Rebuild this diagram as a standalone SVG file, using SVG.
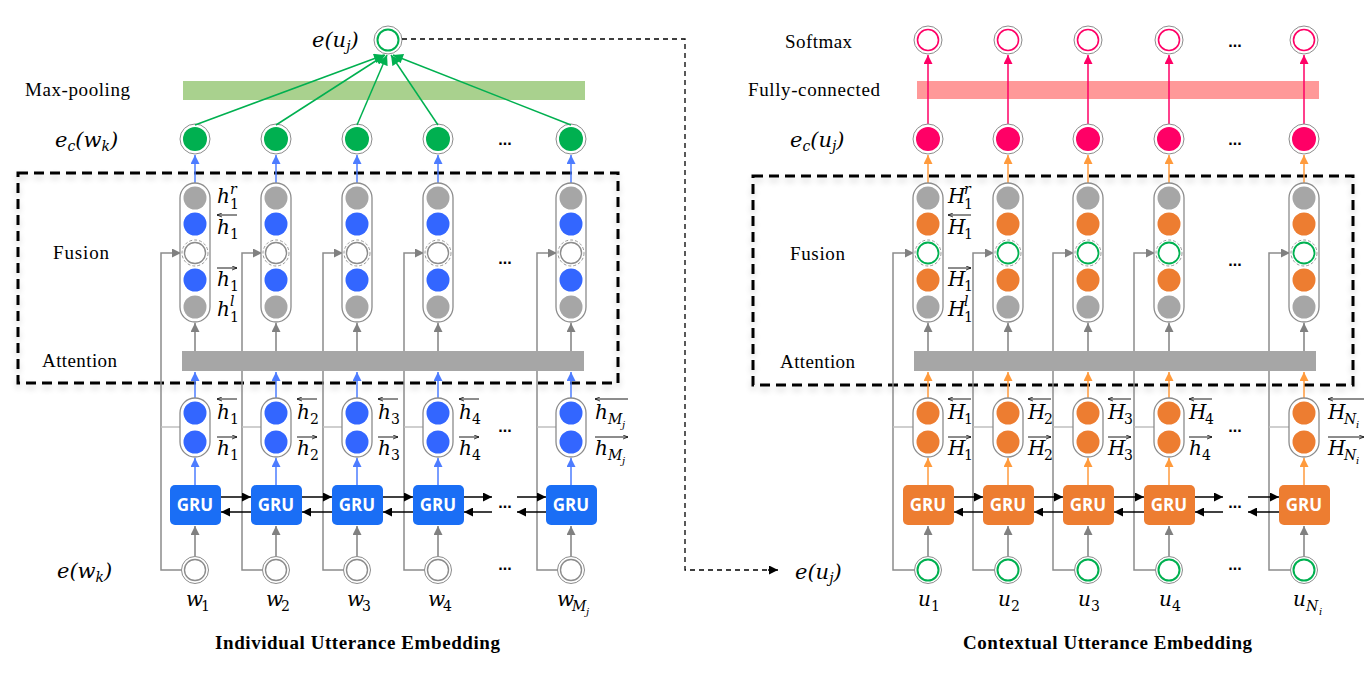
<svg xmlns="http://www.w3.org/2000/svg" xmlns:xlink="http://www.w3.org/1999/xlink" width="1372" height="684" viewBox="0 0 1372 684">
<style>
.lbl{font-family:"Liberation Serif",serif;font-size:19px;fill:#000}
.ttl{font-family:"Liberation Serif",serif;font-size:19px;font-weight:bold;fill:#000}
.m{font-family:"DejaVu Serif","Liberation Serif",serif;font-style:italic;font-size:20px;fill:#000}
.mr{font-family:"DejaVu Serif","Liberation Serif",serif;font-style:italic;font-size:21px;fill:#000}
.s{font-family:"DejaVu Serif","Liberation Serif",serif;font-size:14px;fill:#000}
.si{font-family:"DejaVu Serif","Liberation Serif",serif;font-style:italic;font-size:14px;fill:#000}
.ss{font-family:"DejaVu Serif","Liberation Serif",serif;font-style:italic;font-size:10px;fill:#000}
.gru{font-family:"Open Sans","Noto Sans",sans-serif;font-weight:bold;font-size:17px;fill:#fff;text-anchor:middle}
.dots{font-family:"Liberation Sans",sans-serif;font-weight:bold;font-size:16px;fill:#000;text-anchor:middle}
.pill{fill:#fff;stroke:#8c8c8c;stroke-width:1.3}
.ring{fill:#fff;stroke:#8c8c8c;stroke-width:1}
.gray{fill:#a6a6a6}
.blue{fill:#3366ff}
.orng{fill:#ed7d31}
.side{fill:none;stroke:#8c8c8c;stroke-width:1.5}
.sideL{fill:none;stroke:#bfbfbf;stroke-width:1.5}
.ga{stroke:#808080;stroke-width:1.5;marker-end:url(#aG)}
.ba{stroke:#4d7cff;stroke-width:1.5;marker-end:url(#aB)}
.oa{stroke:#ff9a3c;stroke-width:1.5;marker-end:url(#aO)}
.ra{stroke:#ff0066;stroke-width:1.5;marker-end:url(#aR)}
.gna{stroke:#00b050;stroke-width:1.5;marker-end:url(#aN)}
.ka{stroke:#000;stroke-width:1.5;marker-end:url(#aK)}
.ov{stroke:#000;stroke-width:0.9;marker-end:url(#aS)}
.dash{fill:none;stroke:#000;stroke-width:1.3;stroke-dasharray:5 4}
.box{fill:none;stroke:#000;stroke-width:3;stroke-dasharray:10 6}
</style>
<defs>
<marker id="aG" viewBox="0 0 10 10" refX="10" refY="5" markerWidth="10" markerHeight="9" markerUnits="userSpaceOnUse" orient="auto"><path d="M0,0 L10,5 L0,10 z" fill="#808080"/></marker>
<marker id="aB" viewBox="0 0 10 10" refX="10" refY="5" markerWidth="10" markerHeight="9" markerUnits="userSpaceOnUse" orient="auto"><path d="M0,0 L10,5 L0,10 z" fill="#4d7cff"/></marker>
<marker id="aO" viewBox="0 0 10 10" refX="10" refY="5" markerWidth="10" markerHeight="9" markerUnits="userSpaceOnUse" orient="auto"><path d="M0,0 L10,5 L0,10 z" fill="#ff9a3c"/></marker>
<marker id="aR" viewBox="0 0 10 10" refX="10" refY="5" markerWidth="10" markerHeight="9" markerUnits="userSpaceOnUse" orient="auto"><path d="M0,0 L10,5 L0,10 z" fill="#ff0066"/></marker>
<marker id="aN" viewBox="0 0 10 10" refX="10" refY="5" markerWidth="11" markerHeight="10" markerUnits="userSpaceOnUse" orient="auto"><path d="M0,0 L10,5 L0,10 z" fill="#00b050"/></marker>
<marker id="aK" viewBox="0 0 10 10" refX="10" refY="5" markerWidth="11" markerHeight="9" markerUnits="userSpaceOnUse" orient="auto"><path d="M0,0 L10,5 L0,10 z" fill="#000"/></marker>
<marker id="aS" viewBox="0 0 10 10" refX="10" refY="5" markerWidth="5" markerHeight="5" markerUnits="userSpaceOnUse" orient="auto"><path d="M0,1 L10,5 L0,9" fill="none" stroke="#000" stroke-width="1.5"/></marker>
<filter id="sh" x="-5%" y="-5%" width="110%" height="115%"><feGaussianBlur in="SourceAlpha" stdDeviation="3"/><feOffset dx="0" dy="4" result="b"/><feComponentTransfer><feFuncA type="linear" slope="0.18"/></feComponentTransfer><feMerge><feMergeNode/><feMergeNode in="SourceGraphic"/></feMerge></filter>

<g id="tplL">
  <path class="side" d="M-13,570 H-34 V253 H-14" marker-end="url(#aG)"/>
  <path class="sideL" d="M-34,427 H-15"/>
  <line class="ga" x1="0" y1="556" x2="0" y2="526"/>
  <line class="ba" x1="0" y1="485" x2="0" y2="458"/>
  <line class="ba" x1="0" y1="398" x2="0" y2="372"/>
  <line class="ga" x1="0" y1="351" x2="0" y2="323"/>
  <line class="ba" x1="0" y1="183" x2="0" y2="155"/>
  <circle class="ring" cx="0" cy="139" r="15"/><circle cx="0" cy="139" r="12" fill="#00b050"/>
  <rect class="pill" x="-15" y="183" width="30" height="139" rx="15"/>
  <circle class="gray" cx="0" cy="198" r="11.5"/>
  <circle class="blue" cx="0" cy="224" r="11.5"/>
  <circle cx="0" cy="253" r="13" fill="#fff" stroke="#8c8c8c" stroke-width="0.9" stroke-dasharray="3 2"/>
  <circle cx="0" cy="253" r="10.5" fill="#fff" stroke="#8c8c8c" stroke-width="1.4"/>
  <circle class="blue" cx="0" cy="280" r="11.5"/>
  <circle class="gray" cx="0" cy="307" r="11.5"/>
  <rect class="pill" x="-15" y="398" width="30" height="59" rx="15"/>
  <circle class="blue" cx="0" cy="413" r="11.5"/>
  <circle class="blue" cx="0" cy="442" r="11.5"/>
  <rect x="-25" y="485" width="51" height="40" rx="5" fill="#1a6ef5"/>
  <text class="gru" x="0" y="511">GRU</text>
  <circle class="ring" cx="0" cy="570" r="13.5"/><circle cx="0" cy="570" r="10.5" fill="#fff" stroke="#8c8c8c" stroke-width="1.4"/>
</g>
<g id="tplR">
  <path class="side" d="M-13,570 H-35 V253 H-14" marker-end="url(#aG)"/>
  <path class="sideL" d="M-35,427 H-15"/>
  <line class="ga" x1="0" y1="556" x2="0" y2="526"/>
  <line class="oa" x1="0" y1="485" x2="0" y2="458"/>
  <line class="oa" x1="0" y1="398" x2="0" y2="372"/>
  <line class="ga" x1="0" y1="351" x2="0" y2="323"/>
  <line class="oa" x1="0" y1="183" x2="0" y2="155"/>
  <line class="ra" x1="0" y1="124" x2="0" y2="55"/>
  <circle class="ring" cx="0" cy="139" r="15"/><circle cx="0" cy="139" r="12" fill="#ff0066"/>
  <circle class="ring" cx="0" cy="40" r="14"/><circle cx="0" cy="40" r="10.5" fill="#fff" stroke="#ff0066" stroke-width="1.6"/>
  <rect class="pill" x="-15" y="183" width="30" height="139" rx="15"/>
  <circle class="gray" cx="0" cy="198" r="11.5"/>
  <circle class="orng" cx="0" cy="224" r="11.5"/>
  <circle cx="0" cy="253" r="13" fill="#fff" stroke="#8c8c8c" stroke-width="0.9" stroke-dasharray="3 2"/>
  <circle cx="0" cy="253" r="10.5" fill="#fff" stroke="#00b050" stroke-width="1.8"/>
  <circle class="orng" cx="0" cy="280" r="11.5"/>
  <circle class="gray" cx="0" cy="307" r="11.5"/>
  <rect class="pill" x="-15" y="398" width="30" height="59" rx="15"/>
  <circle class="orng" cx="0" cy="413" r="11.5"/>
  <circle class="orng" cx="0" cy="442" r="11.5"/>
  <rect x="-25" y="485" width="51" height="40" rx="5" fill="#ed7d31"/>
  <text class="gru" x="0" y="511">GRU</text>
  <circle class="ring" cx="0" cy="570" r="13.5"/><circle cx="0" cy="570" r="10.5" fill="#fff" stroke="#00b050" stroke-width="2"/>
</g>
</defs>
<rect width="1372" height="684" fill="#fff"/>

<!-- bars -->
<g id="maxpool"><rect x="183" y="81" width="402" height="19" fill="#a9d18e"/></g>
<g id="fc"><rect x="917" y="81" width="402" height="18" fill="#ff9999"/></g>

<!-- dashed boxes -->
<g id="boxL"><rect class="box" x="18" y="173" width="600" height="210" filter="url(#sh)"/></g>
<g id="boxR"><rect class="box" x="753" y="176" width="600" height="209" filter="url(#sh)"/></g>

<!-- columns -->
<g id="colL1"><use xlink:href="#tplL" x="195"/></g>
<g id="colL2"><use xlink:href="#tplL" x="276"/></g>
<g id="colL3"><use xlink:href="#tplL" x="357"/></g>
<g id="colL4"><use xlink:href="#tplL" x="438"/></g>
<g id="colL5"><use xlink:href="#tplL" x="571"/></g>
<g id="colR1"><use xlink:href="#tplR" x="928"/></g>
<g id="colR2"><use xlink:href="#tplR" x="1008"/></g>
<g id="colR3"><use xlink:href="#tplR" x="1088"/></g>
<g id="colR4"><use xlink:href="#tplR" x="1169"/></g>
<g id="colR5"><use xlink:href="#tplR" x="1304"/></g>

<!-- attention bars -->
<g id="attL"><rect x="182" y="351" width="402" height="20" fill="#a6a6a6"/></g>
<g id="attR"><rect x="914" y="351" width="402" height="20" fill="#a6a6a6"/></g>

<!-- top node e(u_j) -->
<g id="euj"><circle class="ring" cx="388" cy="40" r="14"/><circle cx="388" cy="40" r="10.5" fill="#fff" stroke="#00b050" stroke-width="2"/></g>

<!-- connectors -->
<g id="connectors">
  <line class="gna" x1="195" y1="125" x2="384" y2="55"/>
  <line class="gna" x1="276" y1="125" x2="385" y2="55"/>
  <line class="gna" x1="357" y1="125" x2="387" y2="55"/>
  <line class="gna" x1="438" y1="125" x2="391" y2="55"/>
  <line class="gna" x1="571" y1="125" x2="393" y2="55"/>
  <path class="dash" d="M402,39 H685 V570 H768"/>
  <line class="ka" x1="768" y1="570" x2="778" y2="570"/>
  <line class="ka" x1="221" y1="497" x2="251" y2="497"/><line class="ka" x1="251" y1="512" x2="221" y2="512"/>
  <line class="ka" x1="302" y1="497" x2="332" y2="497"/><line class="ka" x1="332" y1="512" x2="302" y2="512"/>
  <line class="ka" x1="383" y1="497" x2="413" y2="497"/><line class="ka" x1="413" y1="512" x2="383" y2="512"/>
  <line class="ka" x1="464" y1="497" x2="492" y2="497"/><line class="ka" x1="492" y1="512" x2="464" y2="512"/>
  <line class="ka" x1="517" y1="497" x2="546" y2="497"/><line class="ka" x1="546" y1="512" x2="517" y2="512"/>
  <line class="ka" x1="954" y1="497" x2="983" y2="497"/><line class="ka" x1="983" y1="512" x2="954" y2="512"/>
  <line class="ka" x1="1034" y1="497" x2="1063" y2="497"/><line class="ka" x1="1063" y1="512" x2="1034" y2="512"/>
  <line class="ka" x1="1114" y1="497" x2="1144" y2="497"/><line class="ka" x1="1144" y1="512" x2="1114" y2="512"/>
  <line class="ka" x1="1195" y1="497" x2="1223" y2="497"/><line class="ka" x1="1223" y1="512" x2="1195" y2="512"/>
  <line class="ka" x1="1248" y1="497" x2="1279" y2="497"/><line class="ka" x1="1279" y1="512" x2="1248" y2="512"/>
</g>

<!-- ellipses -->
<g id="dots">
  <text class="dots" x="505" y="145">...</text>
  <text class="dots" x="505" y="264">...</text>
  <text class="dots" x="505" y="432">...</text>
  <text class="dots" x="505" y="508">...</text>
  <text class="dots" x="505" y="570">...</text>
  <text class="dots" x="1235" y="47">...</text>
  <text class="dots" x="1235" y="145">...</text>
  <text class="dots" x="1235" y="266">...</text>
  <text class="dots" x="1235" y="432">...</text>
  <text class="dots" x="1235" y="508">...</text>
  <text class="dots" x="1235" y="570">...</text>
</g>

<!-- row labels -->
<g id="labelsL">
  <text class="mr" x="312" y="47">e(u<tspan class="si" dy="4">j</tspan><tspan dy="-4">)</tspan></text>
  <text class="lbl" x="25" y="96" textLength="105">Max-pooling</text>
  <text class="mr" x="55" y="147">e<tspan class="si" dy="4">c</tspan><tspan dy="-4">(w</tspan><tspan class="si" dy="4">k</tspan><tspan dy="-4">)</tspan></text>
  <text class="lbl" x="53" y="259" textLength="56">Fusion</text>
  <text class="lbl" x="42" y="367" textLength="75">Attention</text>
  <text class="mr" x="57" y="578">e(w<tspan class="si" dy="4">k</tspan><tspan dy="-4">)</tspan></text>
  <text class="ttl" x="215" y="649" textLength="285">Individual Utterance Embedding</text>
</g>
<g id="labelsR">
  <text class="lbl" x="785" y="48" textLength="67">Softmax</text>
  <text class="lbl" x="748" y="96" textLength="132">Fully-connected</text>
  <text class="mr" x="790" y="147">e<tspan class="si" dy="4">c</tspan><tspan dy="-4">(u</tspan><tspan class="si" dy="4">j</tspan><tspan dy="-4">)</tspan></text>
  <text class="lbl" x="790" y="260" textLength="55">Fusion</text>
  <text class="lbl" x="780" y="368" textLength="75">Attention</text>
  <text class="mr" x="795" y="579">e(u<tspan class="si" dy="4">j</tspan><tspan dy="-4">)</tspan></text>
  <text class="ttl" x="963" y="649" textLength="289">Contextual Utterance Embedding</text>
</g>

<!-- fusion labels -->
<g id="fusLblL">
  <text class="m" x="217" y="203">h</text><text class="si" x="230" y="194">r</text><text class="s" x="230" y="209">1</text>
  <line class="ov" x1="237" y1="215" x2="217" y2="215"/>
  <text class="m" x="217" y="234">h</text><text class="s" x="230" y="239">1</text>
  <line class="ov" x1="217" y1="268" x2="237" y2="268"/>
  <text class="m" x="217" y="286">h</text><text class="s" x="230" y="291">1</text>
  <text class="m" x="217" y="316">h</text><text class="si" x="230" y="306">l</text><text class="s" x="230" y="322">1</text>
</g>
<g id="fusLblR">
  <text class="m" x="948" y="203">H</text><text class="si" x="964" y="194">r</text><text class="s" x="964" y="209">1</text>
  <line class="ov" x1="971" y1="215" x2="948" y2="215"/>
  <text class="m" x="948" y="234">H</text><text class="s" x="964" y="239">1</text>
  <line class="ov" x1="948" y1="268" x2="971" y2="268"/>
  <text class="m" x="948" y="286">H</text><text class="s" x="964" y="291">1</text>
  <text class="m" x="948" y="316">H</text><text class="si" x="964" y="306">l</text><text class="s" x="964" y="322">1</text>
</g>

<!-- BiGRU labels -->
<g id="biLblL">
  <line class="ov" x1="237" y1="399" x2="217" y2="399"/><text class="m" x="217" y="419">h</text><text class="s" x="230" y="424">1</text>
  <line class="ov" x1="217" y1="437" x2="237" y2="437"/><text class="m" x="217" y="455">h</text><text class="s" x="230" y="460">1</text>
  <line class="ov" x1="317" y1="399" x2="297" y2="399"/><text class="m" x="297" y="419">h</text><text class="s" x="310" y="424">2</text>
  <line class="ov" x1="297" y1="437" x2="317" y2="437"/><text class="m" x="297" y="455">h</text><text class="s" x="310" y="460">2</text>
  <line class="ov" x1="398" y1="399" x2="378" y2="399"/><text class="m" x="378" y="419">h</text><text class="s" x="391" y="424">3</text>
  <line class="ov" x1="378" y1="437" x2="398" y2="437"/><text class="m" x="378" y="455">h</text><text class="s" x="391" y="460">3</text>
  <line class="ov" x1="479" y1="399" x2="459" y2="399"/><text class="m" x="459" y="419">h</text><text class="s" x="472" y="424">4</text>
  <line class="ov" x1="459" y1="437" x2="479" y2="437"/><text class="m" x="459" y="455">h</text><text class="s" x="472" y="460">4</text>
  <line class="ov" x1="628" y1="399" x2="595" y2="399"/><text class="m" x="595" y="419">h</text><text class="si" x="608" y="424">M</text><text class="ss" x="622" y="428">j</text>
  <line class="ov" x1="595" y1="437" x2="628" y2="437"/><text class="m" x="595" y="455">h</text><text class="si" x="608" y="460">M</text><text class="ss" x="622" y="464">j</text>
</g>
<g id="biLblR">
  <line class="ov" x1="971" y1="399" x2="948" y2="399"/><text class="m" x="948" y="419">H</text><text class="s" x="964" y="424">1</text>
  <line class="ov" x1="948" y1="437" x2="971" y2="437"/><text class="m" x="948" y="455">H</text><text class="s" x="964" y="460">1</text>
  <line class="ov" x1="1051" y1="399" x2="1028" y2="399"/><text class="m" x="1028" y="419">H</text><text class="s" x="1044" y="424">2</text>
  <line class="ov" x1="1028" y1="437" x2="1051" y2="437"/><text class="m" x="1028" y="455">H</text><text class="s" x="1044" y="460">2</text>
  <line class="ov" x1="1131" y1="399" x2="1108" y2="399"/><text class="m" x="1108" y="419">H</text><text class="s" x="1124" y="424">3</text>
  <line class="ov" x1="1108" y1="437" x2="1131" y2="437"/><text class="m" x="1108" y="455">H</text><text class="s" x="1124" y="460">3</text>
  <line class="ov" x1="1212" y1="399" x2="1189" y2="399"/><text class="m" x="1189" y="419">H</text><text class="s" x="1205" y="424">4</text>
  <line class="ov" x1="1189" y1="437" x2="1212" y2="437"/><text class="m" x="1189" y="455">h</text><text class="s" x="1202" y="460">4</text>
  <line class="ov" x1="1364" y1="399" x2="1328" y2="399"/><text class="m" x="1328" y="419">H</text><text class="si" x="1344" y="424">N</text><text class="ss" x="1356" y="428">i</text>
  <line class="ov" x1="1328" y1="437" x2="1364" y2="437"/><text class="m" x="1328" y="455">H</text><text class="si" x="1344" y="460">N</text><text class="ss" x="1356" y="464">i</text>
</g>

<!-- input labels -->
<g id="inLblL">
  <text class="m" x="186" y="606">w</text><text class="s" x="201" y="611">1</text>
  <text class="m" x="266" y="606">w</text><text class="s" x="281" y="611">2</text>
  <text class="m" x="347" y="606">w</text><text class="s" x="362" y="611">3</text>
  <text class="m" x="428" y="606">w</text><text class="s" x="443" y="611">4</text>
  <text class="m" x="557" y="606">w</text><text class="si" x="572" y="611">M</text><text class="ss" x="586" y="615">j</text>
</g>
<g id="inLblR">
  <text class="m" x="918" y="606">u</text><text class="s" x="931" y="611">1</text>
  <text class="m" x="998" y="606">u</text><text class="s" x="1011" y="611">2</text>
  <text class="m" x="1078" y="606">u</text><text class="s" x="1091" y="611">3</text>
  <text class="m" x="1159" y="606">u</text><text class="s" x="1172" y="611">4</text>
  <text class="m" x="1293" y="606">u</text><text class="si" x="1306" y="611">N</text><text class="ss" x="1319" y="615">i</text>
</g>
</svg>
